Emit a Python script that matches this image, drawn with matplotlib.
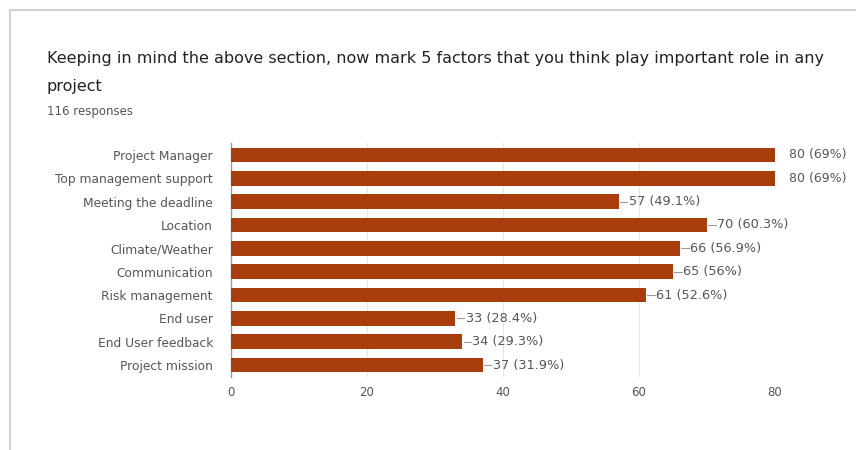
import matplotlib
matplotlib.use('Agg')
import matplotlib.pyplot as plt
from matplotlib.patches import Rectangle

plt.rcParams['font.family'] = ['DejaVu Sans']

categories = ['Project Manager', 'Top management support', 'Meeting the deadline',
              'Location', 'Climate/Weather', 'Communication', 'Risk management',
              'End user', 'End User feedback', 'Project mission']
counts = [80, 80, 57, 70, 66, 65, 61, 33, 34, 37]
percents = ['69%', '69%', '49.1%', '60.3%', '56.9%', '56%', '52.6%',
            '28.4%', '29.3%', '31.9%']
xticks = [0, 20, 40, 60, 80]

BAR_COLOR = '#a83d0e'
TEXT_GRAY = '#555555'

fig = plt.figure(figsize=(8.56, 4.5), dpi=100)

# card outline (only left and top edges fall inside the picture)
fig.patches.append(Rectangle((10 / 856, -0.05), 1.0, 1.05 - 10 / 450,
                             transform=fig.transFigure, fill=False,
                             edgecolor='#c8c8c8', linewidth=1.2))

fig.text(47 / 856, 1 - 58 / 450,
         'Keeping in mind the above section, now mark 5 factors that you think play important role in any',
         fontsize=11.55, color='#222222', va='center')
fig.text(47 / 856, 1 - 86 / 450, 'project', fontsize=11.55, color='#222222', va='center')
fig.text(47 / 856, 1 - 111 / 450, '116 responses', fontsize=8.5, color='#555555', va='center')

ax = fig.add_axes([231 / 856, 1 - 376.7 / 450, 544 / 856, 233.4 / 450])
y = range(len(categories))
ax.barh(y, counts, height=0.64, color=BAR_COLOR, zorder=3)
ax.set_ylim(len(categories) - 0.5, -0.5)
ax.set_xlim(0, 80)
ax.set_xticks(xticks)
ax.set_yticks(list(y))
ax.set_yticklabels(categories, fontsize=8.8, color=TEXT_GRAY)
ax.tick_params(axis='x', labelsize=8.5, labelcolor=TEXT_GRAY, length=0, pad=7)
ax.tick_params(axis='y', length=0, pad=13)
ax.grid(axis='x', color='#e6e6e6', linewidth=0.8, zorder=0)
for s in ['top', 'right', 'bottom']:
    ax.spines[s].set_visible(False)
ax.spines['left'].set_color('#9a9a9a')
ax.spines['left'].set_linewidth(1)

for i, (c, p) in enumerate(zip(counts, percents)):
    label = f'{c} ({p})'
    if c < max(counts):
        ax.plot([c + 0.2, c + 1.3], [i, i], color='#9a9a9a', linewidth=0.8,
                clip_on=False, zorder=4)
        ax.text(c + 1.5, i, label, fontsize=9.3, color=TEXT_GRAY,
                va='center', ha='left', clip_on=False)
    else:
        ax.text(c + 2.1, i, label, fontsize=9.0, color=TEXT_GRAY,
                va='center', ha='left', clip_on=False)

fig.savefig('out.png', dpi=100)
